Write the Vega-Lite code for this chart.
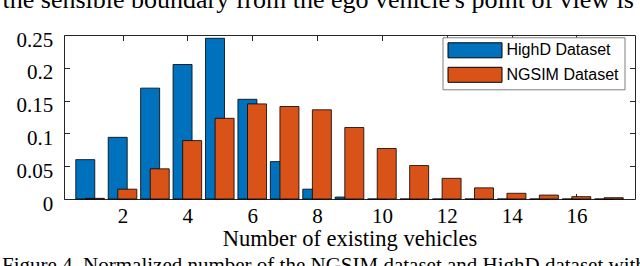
{
  "$schema": "https://vega.github.io/schema/vega-lite/v6.json",
  "width": 571,
  "height": 164,
  "autosize": {"type": "none"},
  "padding": {"left": 64, "top": 35, "right": 5, "bottom": 67},
  "background": "white",
  "config": {
    "view": {"stroke": "#262626", "strokeWidth": 1},
    "axis": {"grid": false, "domain": false, "tickColor": "#262626", "labelColor": "black", "titleColor": "black"}
  },
  "title": {
    "text": "Figure 4. Normalized number of the NGSIM dataset and HighD dataset with",
    "orient": "bottom",
    "anchor": "start",
    "frame": "group",
    "font": "Liberation Serif",
    "fontSize": 21,
    "fontWeight": "normal",
    "color": "black",
    "baseline": "alphabetic",
    "dx": -62,
    "offset": 22
  },
  "data": {
    "values": [
      {"n": 1, "dataset": "HighD Dataset", "value": 0.060},
      {"n": 2, "dataset": "HighD Dataset", "value": 0.094},
      {"n": 3, "dataset": "HighD Dataset", "value": 0.169},
      {"n": 4, "dataset": "HighD Dataset", "value": 0.205},
      {"n": 5, "dataset": "HighD Dataset", "value": 0.245},
      {"n": 6, "dataset": "HighD Dataset", "value": 0.152},
      {"n": 7, "dataset": "HighD Dataset", "value": 0.057},
      {"n": 8, "dataset": "HighD Dataset", "value": 0.015},
      {"n": 9, "dataset": "HighD Dataset", "value": 0.003},
      {"n": 10, "dataset": "HighD Dataset", "value": 0},
      {"n": 11, "dataset": "HighD Dataset", "value": 0},
      {"n": 12, "dataset": "HighD Dataset", "value": 0},
      {"n": 13, "dataset": "HighD Dataset", "value": 0},
      {"n": 14, "dataset": "HighD Dataset", "value": 0},
      {"n": 15, "dataset": "HighD Dataset", "value": 0},
      {"n": 16, "dataset": "HighD Dataset", "value": 0},
      {"n": 17, "dataset": "HighD Dataset", "value": 0},
      {"n": 1, "dataset": "NGSIM Dataset", "value": 0.001},
      {"n": 2, "dataset": "NGSIM Dataset", "value": 0.015},
      {"n": 3, "dataset": "NGSIM Dataset", "value": 0.046},
      {"n": 4, "dataset": "NGSIM Dataset", "value": 0.089},
      {"n": 5, "dataset": "NGSIM Dataset", "value": 0.123},
      {"n": 6, "dataset": "NGSIM Dataset", "value": 0.145},
      {"n": 7, "dataset": "NGSIM Dataset", "value": 0.141},
      {"n": 8, "dataset": "NGSIM Dataset", "value": 0.136},
      {"n": 9, "dataset": "NGSIM Dataset", "value": 0.109},
      {"n": 10, "dataset": "NGSIM Dataset", "value": 0.077},
      {"n": 11, "dataset": "NGSIM Dataset", "value": 0.051},
      {"n": 12, "dataset": "NGSIM Dataset", "value": 0.0315},
      {"n": 13, "dataset": "NGSIM Dataset", "value": 0.017},
      {"n": 14, "dataset": "NGSIM Dataset", "value": 0.0087},
      {"n": 15, "dataset": "NGSIM Dataset", "value": 0.006},
      {"n": 16, "dataset": "NGSIM Dataset", "value": 0.0036},
      {"n": 17, "dataset": "NGSIM Dataset", "value": 0.002}
    ]
  },
  "layer": [
    {
      "transform": [{"filter": "datum.dataset === 'HighD Dataset'"}],
      "mark": {"type": "bar", "width": 19, "xOffset": -4.8, "stroke": "black", "strokeWidth": 0.8},
      "encoding": {
        "x": {
          "field": "n", "type": "quantitative",
          "scale": {"domain": [0.35, 17.65], "nice": false, "zero": false},
          "axis": {
            "orient": "bottom", "values": [2, 4, 6, 8, 10, 12, 14, 16], "ticks": false,
            "labelFont": "Liberation Serif", "labelFontSize": 21, "labelBaseline": "alphabetic", "labelPadding": 23.7,
            "title": "Number of existing vehicles", "titleFont": "Liberation Serif", "titleFontSize": 22.5,
            "titleFontWeight": "normal", "titleBaseline": "alphabetic", "titleY": 46
          }
        },
        "y": {
          "field": "value", "type": "quantitative",
          "scale": {"domain": [0, 0.25], "nice": false},
          "axis": {
            "orient": "left", "values": [0, 0.05, 0.1, 0.15, 0.2, 0.25], "format": "~g", "ticks": false,
            "labelFont": "Liberation Serif", "labelFontSize": 21, "labelBaseline": "alphabetic",
            "labelPadding": 11.3, "labelOffset": 11, "title": null
          }
        },
        "color": {
          "field": "dataset", "type": "nominal",
          "scale": {"domain": ["HighD Dataset", "NGSIM Dataset"], "range": ["#0072BD", "#D95319"]},
          "legend": {
            "orient": "none", "legendX": 378.5, "legendY": 2.3, "title": null,
            "symbolType": "M-3.6,-1H3.6V1H-3.6Z", "symbolSize": 225, "symbolOffset": 19.5,
            "symbolStrokeColor": "black", "symbolStrokeWidth": 1, "symbolOpacity": 1,
            "labelFont": "Liberation Sans", "labelFontSize": 16, "labelColor": "black", "labelOffset": 23.5,
            "rowPadding": 4.5, "padding": 5, "strokeColor": "#7f7f7f", "fillColor": "white"
          }
        }
      }
    },
    {
      "transform": [{"filter": "datum.dataset === 'NGSIM Dataset'"}],
      "mark": {"type": "bar", "width": 19, "xOffset": 4.8, "stroke": "black", "strokeWidth": 0.8},
      "encoding": {
        "x": {
          "field": "n", "type": "quantitative",
          "scale": {"domain": [0.35, 17.65], "nice": false, "zero": false},
          "axis": {"orient": "bottom", "values": [2, 4, 6, 8, 10, 12, 14, 16], "labels": false, "tickSize": -5.5, "title": null}
        },
        "y": {
          "field": "value", "type": "quantitative",
          "scale": {"domain": [0, 0.25], "nice": false},
          "axis": {"orient": "left", "values": [0, 0.05, 0.1, 0.15, 0.2, 0.25], "labels": false, "tickSize": -5.5, "title": null}
        },
        "color": {"field": "dataset", "type": "nominal"}
      }
    },
    {
      "mark": {"type": "point", "opacity": 0},
      "encoding": {
        "x": {
          "field": "n", "type": "quantitative",
          "scale": {"domain": [0.35, 17.65], "nice": false, "zero": false},
          "axis": {
            "orient": "top", "values": [2, 4, 6, 8, 10, 12, 14, 16], "labels": false, "tickSize": -5.5,
            "title": "the sensible boundary from the ego vehicle's point of view is",
            "titleFont": "Liberation Serif", "titleFontSize": 26, "titleFontWeight": "normal",
            "titleAlign": "left", "titleBaseline": "alphabetic", "titleX": -62, "titleY": -27.5
          }
        },
        "y": {
          "field": "value", "type": "quantitative",
          "scale": {"domain": [0, 0.25], "nice": false},
          "axis": {"orient": "right", "values": [0.05, 0.1, 0.15, 0.2], "labels": false, "tickSize": -5.5, "title": null}
        }
      }
    }
  ],
  "resolve": {"axis": {"x": "independent", "y": "independent"}}
}
